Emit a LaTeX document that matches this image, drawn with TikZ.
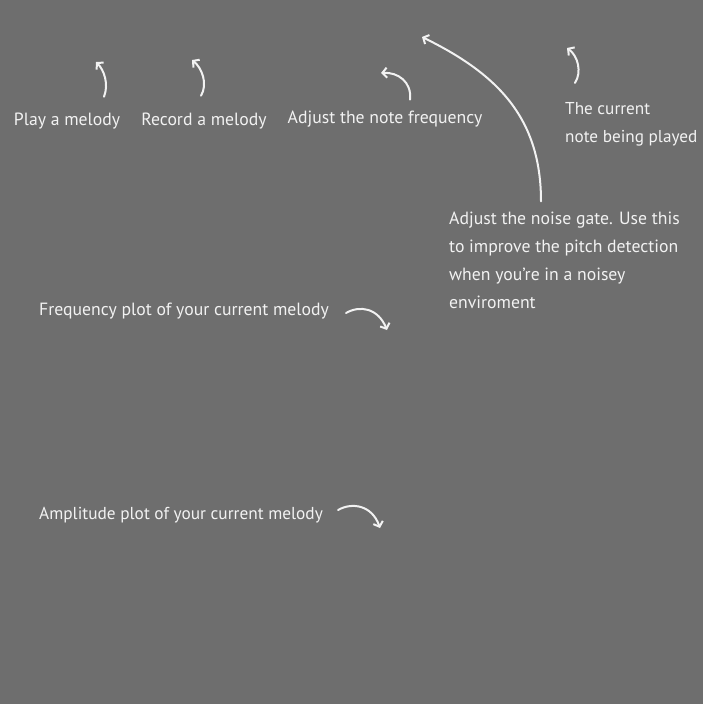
\documentclass[tikz,border=0pt]{standalone}
\usepackage{fontspec}
\setmainfont{PT Sans}
\usetikzlibrary{arrows.meta}
\definecolor{board}{HTML}{6E6E6E}
\definecolor{chalk}{HTML}{F2F2F2}
\begin{document}
\begin{tikzpicture}[x=1pt,y=-1pt,
	note/.style={text=chalk,font=\fontsize{17.7}{28}\selectfont,inner sep=0pt,align=left},
	hint/.style={draw=chalk,line width=2pt,line cap=round,-{Straight Barb[length=4.5pt,width=10pt]}}]
	\fill[board] (0,0) rectangle (703,704);
	\node[note] (play) at (67,121) {Play a melody};
	\node[note] (rec) at (204,121) {Record a melody};
	\node[note] (freqadj) at (385,119) {Adjust the note frequency};
	\node[note,anchor=west,font=\fontsize{17.2}{28}\selectfont] (cur) at (565,124) {The current\\note being played};
	\node[note,anchor=west] (gate) at (449,260) {Adjust the noise gate. Use this\\to improve the pitch detection\\when you’re in a noisey\\enviroment};
	\node[note,anchor=west] (fplot) at (39,311) {Frequency plot of your current melody};
	\node[note,anchor=west,font=\fontsize{17.3}{28}\selectfont] (aplot) at (39,515) {Amplitude plot of your current melody};
	\coordinate (playtip) at (96,62);
	\coordinate (rectip) at (192,60);
	\coordinate (freqtip) at (381,73);
	\coordinate (curtip) at (567,48);
	\coordinate (gatetip) at (422,37);
	\coordinate (fplottip) at (387,330);
	\coordinate (aplottip) at (380,528);
	\draw[hint] ([xshift=37pt,yshift=16pt]play.north) .. controls (109,84) and (104,70) .. (playtip);
	\draw[hint] ([xshift=-3pt,yshift=17pt]rec.north) .. controls (208,84) and (202,68) .. (rectip);
	\draw[hint] ([xshift=25pt,yshift=11pt]freqadj.north) .. controls (412,82) and (398,72) .. (freqtip);
	\draw[hint] ([xshift=10pt,yshift=19pt]cur.north west) .. controls (582,72) and (578,56) .. (curtip);
	\draw[hint] ([xshift=92pt,yshift=10pt]gate.north west) .. controls (541,120) and (500,75) .. (gatetip);
	\draw[hint] ([xshift=17pt,yshift=-2pt]fplot.east) .. controls (360,305) and (378,308) .. (fplottip);
	\draw[hint] ([xshift=15pt,yshift=5pt]aplot.east) .. controls (352,502) and (372,505) .. (aplottip);
\end{tikzpicture}
\end{document}
